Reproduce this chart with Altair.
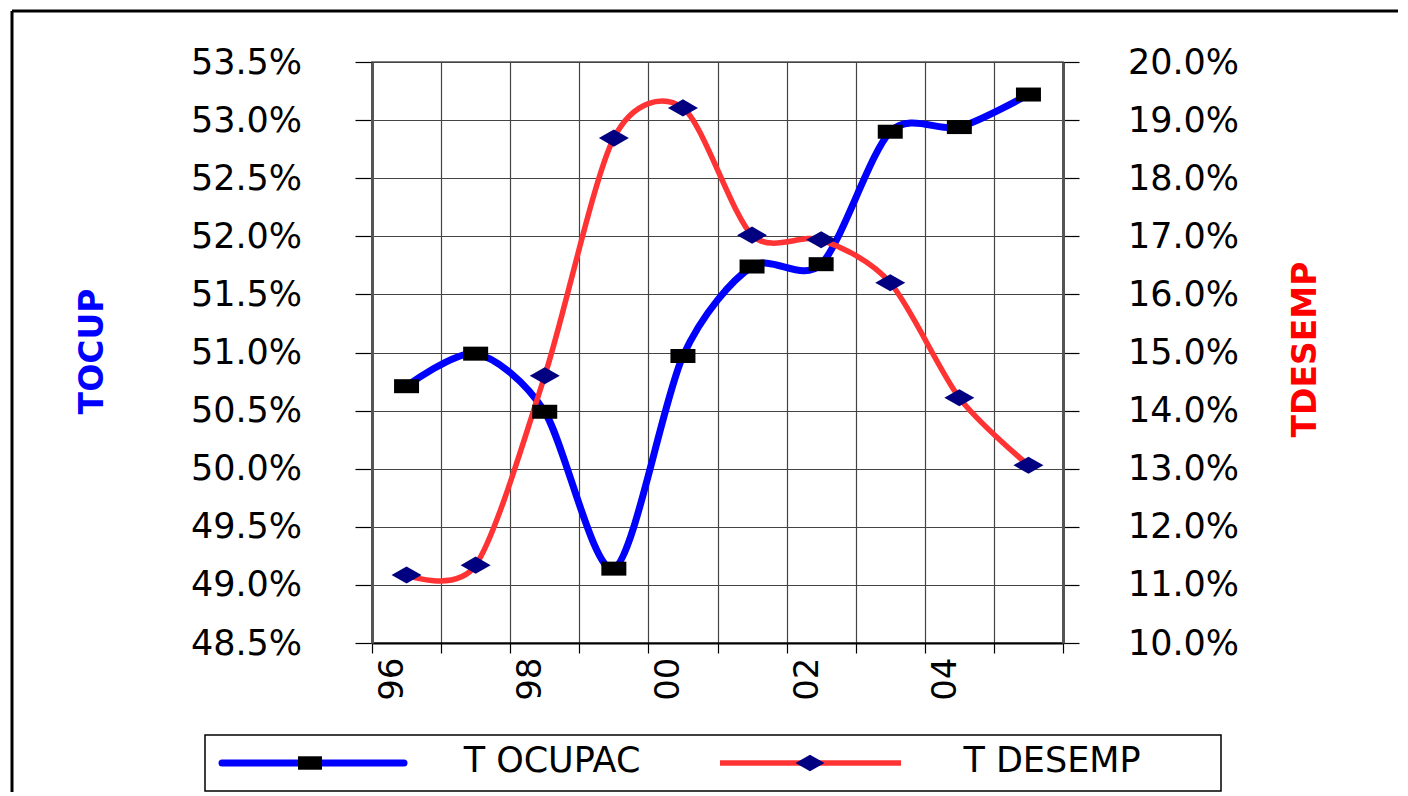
import altair as alt
import pandas as pd

# ---- data ----
years = ["96", "97", "98", "99", "00", "01", "02", "03", "04", "05"]
t_ocupac = [50.71, 50.99, 50.49, 49.14, 50.97, 51.74, 51.76, 52.90, 52.94, 53.22]
t_desemp = [11.17, 11.34, 14.60, 18.69, 19.21, 17.02, 16.94, 16.20, 14.22, 13.06]
series_names = ["T OCUPAC", "T DESEMP"]
left_ticks = [48.5, 49.0, 49.5, 50.0, 50.5, 51.0, 51.5, 52.0, 52.5, 53.0, 53.5]
right_ticks = [10.0, 11.0, 12.0, 13.0, 14.0, 15.0, 16.0, 17.0, 18.0, 19.0, 20.0]
left_title = "TOCUP"
right_title = "TDESEMP"

BLUE = "#0000FF"
RED = "#FF3333"
NAVY = "#000080"
FONT = "DejaVu Sans"

df = pd.DataFrame({
    "year": years,
    "pos": [i + 0.5 for i in range(len(years))],
    "ocup": [v / 100 for v in t_ocupac],
    "desemp": [v / 100 for v in t_desemp],
})

W, H = 691, 581

x_vals = [i / 2 for i in range(0, 2 * len(years) + 1)]
label_arr = "[" + ",".join(f"'{y}'" for y in years) + "]"
half = {"condition": {"test": "datum.value % 1 !== 0", "value": 0}, "value": 1}

x_axis = alt.Axis(
    values=x_vals, grid=True, gridColor="#444", gridWidth=1.2,
    gridOpacity=half, tickOpacity=half,
    tickSize=10, tickColor="#000", tickWidth=1.2,
    labelExpr=f"datum.value % 2 === 0.5 ? {label_arr}[floor(datum.value)] : ''",
    labelAngle=270, labelAlign="right", labelBaseline="middle",
    labelPadding=4, labelOffset=-14, labelFont=FONT, labelFontSize=34,
    labelColor="#000", labelOverlap=False, labelFlush=False,
    domainColor="#000", domainWidth=2, title=None,
)
x_scale = alt.Scale(domain=[0, len(years)], nice=False, zero=False)
x_enc = alt.X("pos:Q", scale=x_scale, axis=x_axis)

left_scale = alt.Scale(domain=[left_ticks[0] / 100, left_ticks[-1] / 100], nice=False, zero=False)
right_scale = alt.Scale(domain=[right_ticks[0] / 100, right_ticks[-1] / 100], nice=False, zero=False)

left_axis = alt.Axis(
    orient="left", values=[v / 100 for v in left_ticks], format=".1%",
    grid=True, gridColor="#444", gridWidth=1.2,
    tickSize=17, tickColor="#000", tickWidth=1.2,
    domainColor="#555", domainWidth=3,
    labelFont=FONT, labelFontSize=35, labelColor="#000",
    labelAlign="center", labelBaseline="middle", labelPadding=109,
    labelOverlap=False, labelFlush=False,
    title=left_title, titleColor=BLUE, titleFont=FONT, titleFontSize=33,
    titleFontWeight="bold", titleAngle=270, titleX=-280, titleY=289,
    titleAlign="center", titleBaseline="middle",
)
right_axis = alt.Axis(
    orient="right", values=[v / 100 for v in right_ticks], format=".1%",
    grid=False, tickSize=16, tickColor="#000", tickWidth=1.2,
    domainColor="#555", domainWidth=3,
    labelFont=FONT, labelFontSize=35, labelColor="#000",
    labelAlign="center", labelBaseline="middle", labelPadding=104,
    labelOverlap=False, labelFlush=False,
    title=right_title, titleColor="#FF0000", titleFont=FONT, titleFontSize=33,
    titleFontWeight="bold", titleAngle=270, titleX=242, titleY=287,
    titleAlign="center", titleBaseline="middle",
)

base = alt.Chart(df)

blue_line = base.mark_line(color=BLUE, strokeWidth=7, interpolate="cardinal", tension=0.15,
                           strokeCap="round").encode(
    x=x_enc, y=alt.Y("ocup:Q", scale=left_scale, axis=left_axis))
red_line = base.mark_line(color=RED, strokeWidth=5.5, interpolate="cardinal", tension=0.15).encode(
    x=x_enc, y=alt.Y("desemp:Q", scale=right_scale, axis=right_axis))

square_path = "M-1,-0.56L1,-0.56L1,0.56L-1,0.56Z"
diamond_path = "M-1,0L0,-0.57L1,0L0,0.57Z"

squares = base.mark_point(shape=square_path, filled=True, color="#000", size=625, opacity=1).encode(
    x=x_enc, y=alt.Y("ocup:Q", scale=left_scale, axis=None))
diamonds = base.mark_point(shape=diamond_path, filled=True, color=NAVY, size=900, opacity=1).encode(
    x=x_enc, y=alt.Y("desemp:Q", scale=right_scale, axis=None))

one = alt.Data(values=[{"name": series_names[0]}])
two = alt.Data(values=[{"name": series_names[1]}])

edge_mask = alt.Chart(one).mark_rule(color="white", strokeWidth=8).encode(
    x=alt.value(1024), y=alt.value(-40), y2=alt.value(760))
frame_top = alt.Chart(one).mark_rule(color="#000", strokeWidth=3).encode(
    x=alt.value(-360), x2=alt.value(1030), y=alt.value(-51))
frame_left = alt.Chart(one).mark_rule(color="#000", strokeWidth=3).encode(
    x=alt.value(-360), y=alt.value(-51), y2=alt.value(760))
legend_box = alt.Chart(one).mark_rect(fill="white", stroke="#000", strokeWidth=1.5).encode(
    x=alt.value(-167), x2=alt.value(849), y=alt.value(673), y2=alt.value(729))

leg1_line = alt.Chart(one).mark_rule(color=BLUE, strokeWidth=7, strokeCap="round").encode(
    x=alt.value(-150), x2=alt.value(32), y=alt.value(701))
leg1_mark = alt.Chart(one).mark_point(shape=square_path, filled=True, color="#000", size=576, opacity=1).encode(
    x=alt.value(-62), y=alt.value(701))
leg1_text = alt.Chart(one).mark_text(font=FONT, fontSize=35, align="center", baseline="middle", color="#000").encode(
    x=alt.value(180), y=alt.value(699), text="name:N")

leg2_line = alt.Chart(two).mark_rule(color=RED, strokeWidth=5.5).encode(
    x=alt.value(348), x2=alt.value(529), y=alt.value(701))
leg2_mark = alt.Chart(two).mark_point(shape=diamond_path, filled=True, color=NAVY, size=841, opacity=1).encode(
    x=alt.value(438), y=alt.value(701))
leg2_text = alt.Chart(two).mark_text(font=FONT, fontSize=35, align="center", baseline="middle", color="#000").encode(
    x=alt.value(680), y=alt.value(699), text="name:N")

chart = alt.layer(
    frame_top, frame_left, blue_line, red_line, squares, diamonds,
    legend_box, leg1_line, leg1_mark, leg1_text, leg2_line, leg2_mark, leg2_text,
    edge_mask,
).resolve_scale(y="independent").properties(
    width=W, height=H,
    autosize=alt.AutoSizeParams(type="none"),
    padding={"left": 364, "top": 54, "right": 335, "bottom": 149},
    background="white",
).configure_view(stroke="#555", strokeWidth=1.5)

chart.save("out.html", embed_options={"renderer": "svg", "actions": False})
